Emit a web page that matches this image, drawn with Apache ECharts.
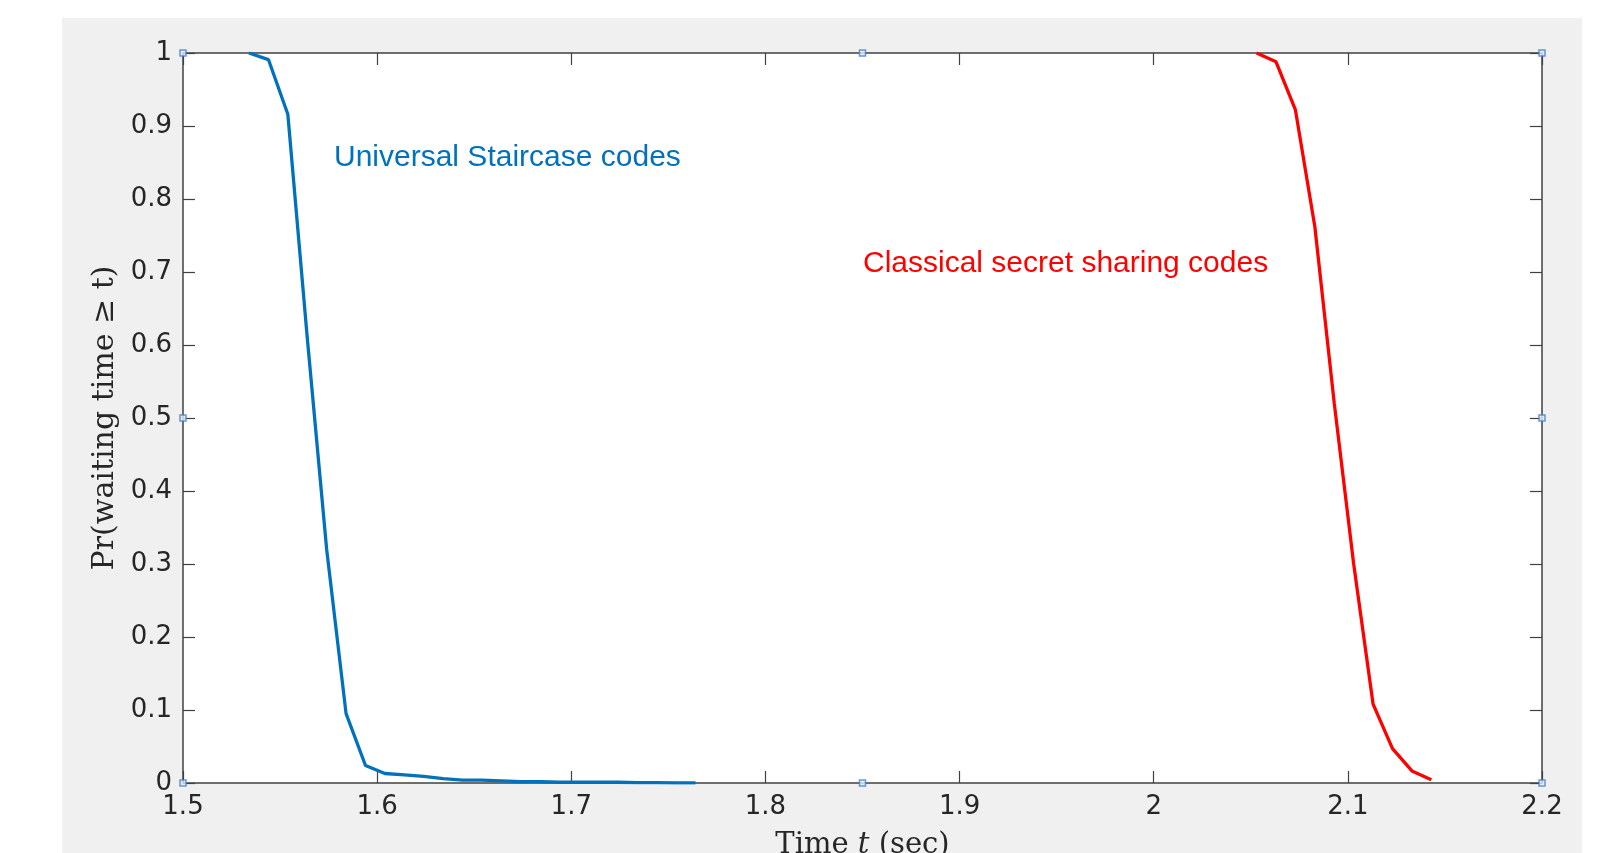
<!DOCTYPE html>
<html>
<head>
<meta charset="utf-8">
<script src="https://cdn.jsdelivr.net/npm/echarts@6/dist/echarts.min.js"></script>
<style>
html,body{margin:0;padding:0;background:#ffffff;width:1615px;height:853px;overflow:hidden;}
#chart{position:absolute;left:62px;top:18px;width:1520px;height:835px;background:#f0f0f0;}
</style>
</head>
<body>
<div id="chart"></div>
<script>
// ---- data ----
const staircaseT = [1.534,1.544,1.554,1.564,1.574,1.584,1.594,1.604,1.614,1.624,1.634,1.644,1.654,1.664,1.674,1.684,1.694,1.704,1.714,1.724,1.734,1.744,1.754,1.764];
const staircaseP = [1.0,0.991,0.916,0.61,0.32,0.095,0.024,0.013,0.011,0.009,0.006,0.004,0.004,0.003,0.002,0.002,0.001,0.001,0.001,0.001,0.0005,0.0005,0.0003,0.0002];
const classicalT = [2.053,2.063,2.073,2.083,2.093,2.103,2.113,2.123,2.133,2.143];
const classicalP = [1.0,0.988,0.922,0.762,0.52,0.30,0.108,0.047,0.0165,0.0046];
const handleX = [1.5,1.85,2.2,1.5,2.2,1.5,1.85,2.2];
const handleY = [1,1,1,0.5,0.5,0,0,0];
const xMin = 1.5, xMax = 2.2, xStep = 0.1;
const yMin = 0, yMax = 1, yStep = 0.1;
const staircaseLabel = 'Universal Staircase codes';
const classicalLabel = 'Classical secret sharing codes';
const yTitle = 'Pr(waiting time \u2265 t)';

const zip = (a, b) => a.map((v, i) => [v, b[i]]);
const fmt = v => String(parseFloat(Number(v).toFixed(2)));
const axisColor = '#404040';
const labelFont = {color: '#262626', fontFamily: 'DejaVu Sans', fontSize: 26};

const chart = echarts.init(document.getElementById('chart'), null, {renderer: 'canvas'});
const baseX = {
  type: 'value', min: xMin, max: xMax, interval: xStep,
  axisLine: {show: true, onZero: false, lineStyle: {color: axisColor, width: 1.5}},
  axisTick: {show: true, inside: true, length: 12, lineStyle: {color: axisColor, width: 1.2}},
  splitLine: {show: false}
};
const baseY = {
  type: 'value', min: yMin, max: yMax, interval: yStep,
  axisLine: {show: true, onZero: false, lineStyle: {color: axisColor, width: 1.5}},
  axisTick: {show: true, inside: true, length: 12, lineStyle: {color: axisColor, width: 1.2}},
  splitLine: {show: false}
};
chart.setOption({
  animation: false,
  grid: {left: 121, top: 35, width: 1359, height: 730, show: true, backgroundColor: '#ffffff', borderWidth: 0,
         containLabel: false, outerBoundsMode: 'none'},
  xAxis: [
    Object.assign({}, baseX, {
      position: 'bottom',
      axisLabel: Object.assign({}, labelFont, {margin: 11, formatter: fmt, showMinLabel: true, showMaxLabel: true, hideOverlap: false}),
      name: '{n|Time }{i|t}{n| (sec)}',
      nameLocation: 'middle', nameGap: 48,
      nameTextStyle: {rich: {
        n: {fontFamily: 'DejaVu Serif', fontSize: 29, color: '#262626'},
        i: {fontFamily: 'DejaVu Serif', fontStyle: 'italic', fontSize: 29, color: '#262626'}
      }}
    }),
    Object.assign({}, baseX, {position: 'top', axisLabel: {show: false}})
  ],
  yAxis: [
    Object.assign({}, baseY, {
      position: 'left',
      axisLabel: Object.assign({}, labelFont, {margin: 11, formatter: fmt, showMinLabel: true, showMaxLabel: true, hideOverlap: false}),
      name: yTitle, nameLocation: 'middle', nameGap: 63,
      nameTextStyle: {fontFamily: 'DejaVu Serif', fontSize: 30, color: '#262626'}
    }),
    Object.assign({}, baseY, {position: 'right', axisLabel: {show: false}})
  ],
  series: [
    {
      type: 'line', xAxisIndex: 0, yAxisIndex: 0,
      data: zip(staircaseT, staircaseP), showSymbol: false, smooth: false,
      lineStyle: {color: '#0072BD', width: 3.3}, itemStyle: {color: '#0072BD'}, z: 3
    },
    {
      type: 'line', xAxisIndex: 0, yAxisIndex: 0,
      data: zip(classicalT, classicalP), showSymbol: false, smooth: false,
      lineStyle: {color: '#FF0000', width: 3.3}, itemStyle: {color: '#FF0000'}, z: 3
    },
    {
      type: 'scatter', xAxisIndex: 0, yAxisIndex: 0,
      data: zip(handleX, handleY), symbol: 'rect', symbolSize: 6, clip: false,
      itemStyle: {color: '#e6eef8', borderColor: '#3f7fcc', borderWidth: 1.5}, z: 5,
      silent: true
    }
  ],
  graphic: [
    {type: 'text', left: 272, top: 125, z: 10,
     style: {text: staircaseLabel, fill: '#0072BD', font: '30px "Liberation Sans", Arial, sans-serif'}},
    {type: 'text', left: 801, top: 231, z: 10,
     style: {text: classicalLabel, fill: '#FF0000', font: '30px "Liberation Sans", Arial, sans-serif'}}
  ]
});
</script>
</body>
</html>
